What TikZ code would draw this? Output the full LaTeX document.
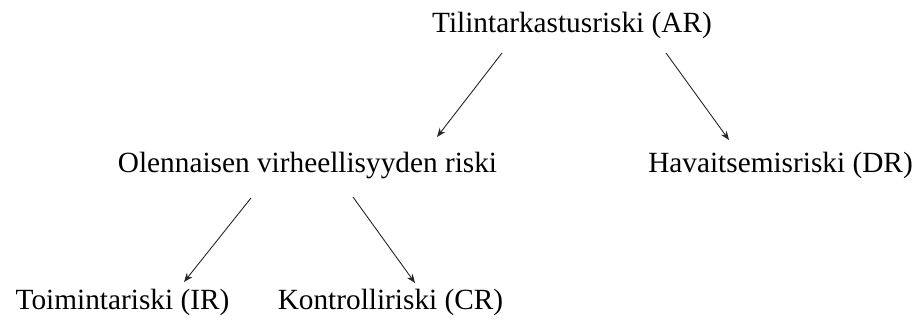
\documentclass[tikz,border=0pt]{standalone}
\usepackage{fontspec}
\setmainfont{Liberation Serif}
\usepackage{tikz}
\usetikzlibrary{calc,arrows.meta}

\begin{document}
\begin{tikzpicture}[x=1pt,y=-1pt,
	riskinode/.style={anchor=base,inner sep=0pt,font=\fontsize{29.3}{35}\selectfont},
	riskiarrow/.style={-{Stealth[length=9pt,width=7pt]},line width=0.9pt,black!85}]
				\useasboundingbox (0,0) rectangle (918,320);
				\node [riskinode] (ar) at (572,33) {Tilintarkastusriski (AR)};
				\node [riskinode] (rmm) at (307.5,173) {Olennaisen virheellisyyden riski};
				\node [riskinode] (dr) at (780.5,173) {Havaitsemisriski (DR)};
				\node [riskinode] (ir) at (122.5,309) {Toimintariski (IR)};
				\node [riskinode] (cr) at (390.5,309) {Kontrolliriski (CR)};
				\draw [riskiarrow] ($(ar.base)+(-70,20)$) -- ($(rmm.base)+(129.5,-36)$);
				\draw [riskiarrow] ($(ar.base)+(94,20)$) -- ($(dr.base)+(-51.5,-33)$);
				\draw [riskiarrow] ($(rmm.base)+(-56.5,25)$) -- ($(ir.base)+(61.5,-27)$);
				\draw [riskiarrow] ($(rmm.base)+(45.5,24)$) -- ($(cr.base)+(24.5,-26)$);
			\end{tikzpicture}
\end{document}
